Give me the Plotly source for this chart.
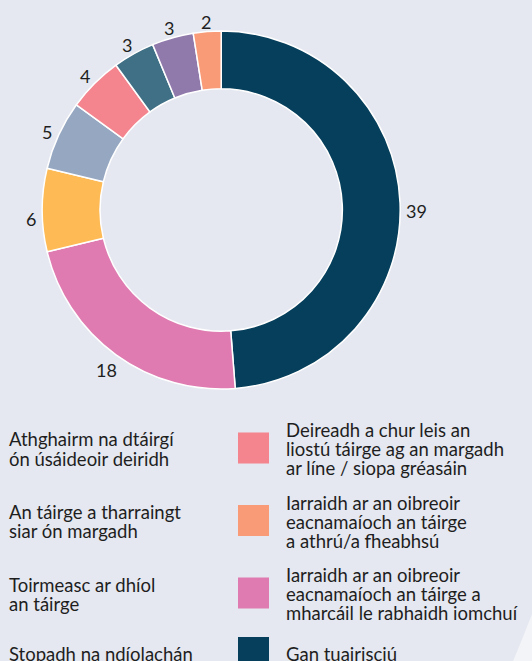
import math
import plotly.graph_objects as go

# ---- data ----
categories = [
    "Gan tuairisciú",
    "Iarraidh ar an oibreoir<br>eacnamaíoch an táirge a<br>mharcáil le rabhaidh iomchuí",
    "Athghairm na dtáirgí<br>ón úsáideoir deiridh",
    "An táirge a tharraingt<br>siar ón margadh",
    "Deireadh a chur leis an<br>liostú táirge ag an margadh<br>ar líne / siopa gréasáin",
    "Toirmeasc ar dhíol<br>an táirge",
    "Stopadh na ndíolachán",
    "Iarraidh ar an oibreoir<br>eacnamaíoch an táirge<br>a athrú/a fheabhsú",
]
values = [39, 18, 6, 5, 4, 3, 3, 2]
colors = ["#053F5C", "#DF7BB0", "#FEBB55", "#96A7C2", "#F4848E", "#3F7085", "#9079AB", "#FA9B78"]

# legend order, row-major (left column, right column, ...)
legend_order = [2, 4, 3, 7, 5, 1, 6, 0]

W, H = 532, 661
FONT = "Lato"
BG = "#E5E8F0"
TXT = "#1E1E1E"

CX, CY, R = 221.2, 210, 179  # pie centre and outer radius (px)

fig = go.Figure(go.Pie(
    labels=categories,
    values=values,
    marker=dict(colors=colors, line=dict(color="white", width=1.5)),
    hole=0.677,
    sort=False,
    direction="clockwise",
    rotation=0,
    textinfo="none",
    hoverinfo="label+value",
    showlegend=False,
    domain=dict(x=[(CX - R) / W, (CX + R) / W],
                y=[(H - CY - R) / H, (H - CY + R) / H]),
))

annotations = []
shapes = []

# value labels just outside each slice, at the slice's mid-angle (derived from values)
total = sum(values)
cum = 0
for v in values:
    mid = (cum + v / 2) / total * 2 * math.pi
    cum += v
    dx, dy = math.sin(mid), -math.cos(mid)
    hw, hh = 5.3 * len(str(v)), 5
    s = R + 6 + hw * abs(dx) + hh * abs(dy)
    px, py = CX + s * dx, CY + s * dy + 2
    if abs(dy) < 0.2:  # labels near the equator sit just below the mid-line
        py += 7
    annotations.append(dict(text=str(v), xref="paper", yref="paper",
                            x=px / W, y=1 - py / H, xanchor="center", yanchor="middle",
                            showarrow=False, font=dict(family=FONT, size=18, color=TXT)))

# custom two-column legend
line_h = 19
sw = 31
row_gap = 15.5
y_cursor = 448 - 28.5  # top of first legend row
n_rows = (len(legend_order) + 1) // 2
for row in range(n_rows):
    items = legend_order[2 * row: 2 * row + 2]
    row_h = max([sw] + [len(categories[i].split("<br>")) * line_h for i in items])
    cy = y_cursor + row_h / 2
    for col, idx in enumerate(items):
        text_x = 7 if col == 0 else 284
        sw_x = text_x - 46
        shapes.append(dict(type="rect", xref="paper", yref="paper",
                           x0=sw_x / W, x1=(sw_x + sw) / W,
                           y0=1 - (cy + sw / 2) / H, y1=1 - (cy - sw / 2) / H,
                           fillcolor=colors[idx], line=dict(width=0)))
        lines = categories[idx].split("<br>")
        n = len(lines)
        for j, ln in enumerate(lines):
            ly = cy + (j - (n - 1) / 2) * line_h + 1
            annotations.append(dict(text=ln, xref="paper", yref="paper",
                                    x=text_x / W, y=1 - ly / H, xanchor="left", yanchor="middle",
                                    showarrow=False, font=dict(family=FONT, size=18.5, color=TXT)))
    y_cursor += row_h + row_gap

# decorative light corner at bottom right
shapes.append(dict(type="path", xref="paper", yref="paper",
                   path=f"M 1 {1 - 614 / H} Q {520 / W} {1 - 645 / H} {513 / W} 0 L 1 0 Z",
                   fillcolor="#F3F4F8", line=dict(width=0), layer="below"))

fig.update_layout(
    width=W, height=H,
    margin=dict(l=0, r=0, t=0, b=0),
    paper_bgcolor=BG, plot_bgcolor=BG,
    shapes=shapes, annotations=annotations,
    font=dict(family=FONT, color=TXT),
)

fig.write_html(
    "out.html",
    config={"displayModeBar": False},
    post_script="document.body.style.margin='0';document.body.style.overflow='hidden';",
)
